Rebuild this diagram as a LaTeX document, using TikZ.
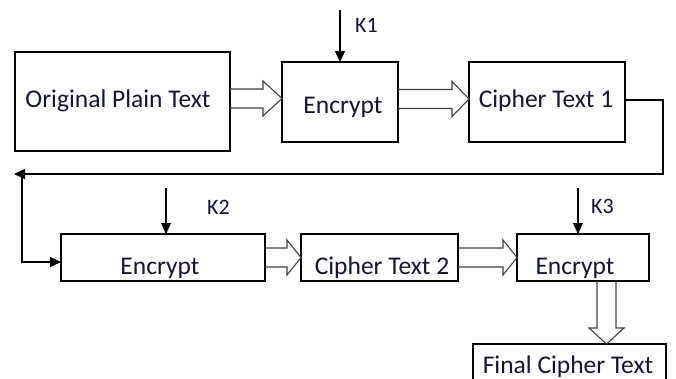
\documentclass[tikz,border=0pt]{standalone}
\usepackage{fontspec}
\setmainfont{Carlito}
\usetikzlibrary{arrows.meta,calc}
\definecolor{ink}{rgb}{0.08,0.08,0.2}

% horizontal hollow block arrow: from node #1 (east) to node #2 (west),
% axis shifted by #3 from the centre of #2, head length #4
\newcommand\hblk[4]{%
  \draw[blk] let \p1=(#1.east), \p2=(#2.west) in
    (\x1,\y2+#3+9.5pt) -- (\x2-#4,\y2+#3+9.5pt) -- (\x2-#4,\y2+#3+17.5pt)
    -- (\x2,\y2+#3) -- (\x2-#4,\y2+#3-17.5pt) -- (\x2-#4,\y2+#3-9.5pt)
    -- (\x1,\y2+#3-9.5pt);}

\begin{document}
\begin{tikzpicture}[x=1pt,y=-1pt,
  box/.style={draw, line width=1.2pt, inner sep=0pt, outer sep=0pt, anchor=north west},
  lbl/.style={font=\fontsize{25.5}{28}\selectfont, text=ink, anchor=base, inner sep=0pt},
  klbl/.style={font=\fontsize{22}{26}\selectfont, text=ink, anchor=base west, inner sep=0pt},
  wire/.style={line width=1.2pt, -{Triangle[length=11pt,width=10pt]}},
  blk/.style={line width=1.1pt, draw=black!75, line join=miter}]
\useasboundingbox (0,0) rectangle (676,378);
\clip (0,0) rectangle (676,378);

% first row
\node[box, minimum width=215pt, minimum height=99pt] (o)  at (15,52)  {};
\node[box, minimum width=116pt, minimum height=80pt] (e1) at (282,62) {};
\node[box, minimum width=156pt, minimum height=80pt] (c1) at (469,62) {};
\node[lbl] (to)  at (118,107) {Original Plain Text};
\node[lbl] (te1) at (343,113) {Encrypt};
\node[lbl] (tc1) at (546,107) {Cipher Text 1};

% second row
\node[box, minimum width=204pt, minimum height=47pt] (e2) at (61,234)  {};
\node[box, minimum width=157pt, minimum height=47pt] (c2) at (301,234) {};
\node[box, minimum width=132pt, minimum height=47pt] (e3) at (517,234) {};
\node[lbl] (te2) at (160,274) {Encrypt};
\node[lbl] (tc2) at (382,274) {Cipher Text 2};
\node[lbl] (te3) at (575,274) {Encrypt};

% output box
\node[box, minimum width=193pt, minimum height=50pt] (f) at (473,344) {};
\node[lbl] (tf) at (568,373) {Final Cipher Text};

% keys
\coordinate (k1) at (340,10);
\coordinate (k2) at (166,188);
\coordinate (k3) at (578,188);
\draw[wire] (k1) -- (k1 |- e1.north);
\draw[wire] (k2) -- (k2 |- e2.north);
\draw[wire] (k3) -- (k3 |- e3.north);
\node[klbl] (k1l) at (355,32)  {K1};
\node[klbl] (k2l) at (207,214) {K2};
\node[klbl] (k3l) at (591,213) {K3};

% block arrows along the chain
\hblk{o}{e1}{3.5pt}{19pt}
\hblk{e1}{c1}{3pt}{17pt}
\hblk{e2}{c2}{0pt}{14pt}
\hblk{c2}{e3}{0pt}{14pt}
\draw[blk] let \p1=(e3.south), \p2=(f.north) in
  (\x1+14pt,\y1) -- (\x1+14pt,\y2+16pt) -- (\x1+6pt,\y2+16pt)
  -- (\x1+23.5pt,\y2) -- (\x1+41pt,\y2+16pt) -- (\x1+33pt,\y2+16pt)
  -- (\x1+33pt,\y1);

% feedback line from the first row to the second
\coordinate (lt) at (14,174);
\coordinate (lb) at (22,174);
\draw[wire] ([yshift=2pt]c1.east) -- ++(38,0) |- (lt);
\draw[wire] (lb) |- ([yshift=-4.5pt]e2.west);
\end{tikzpicture}
\end{document}
